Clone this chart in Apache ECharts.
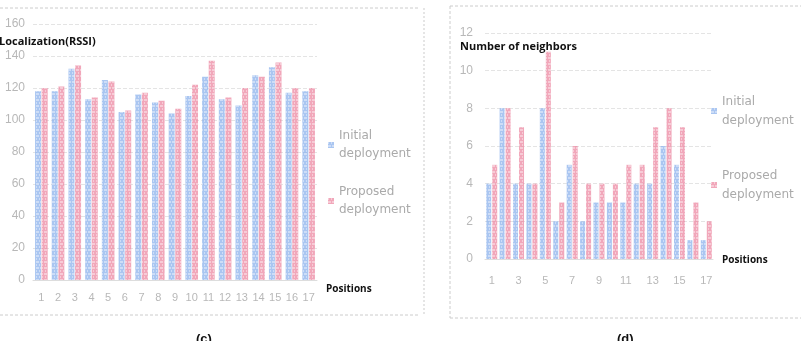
<!DOCTYPE html>
<html>
<head>
<meta charset="utf-8">
<script src="https://cdn.jsdelivr.net/npm/echarts@6/dist/echarts.min.js"></script>
<style>
  html, body { margin: 0; padding: 0; background: #fff; }
  #chart { width: 801px; height: 341px; }
</style>
</head>
<body>
<div id="chart"></div>
<script>
var chart = echarts.init(document.getElementById('chart'));

// positions 1..17
var positions = ['1','2','3','4','5','6','7','8','9','10','11','12','13','14','15','16','17'];
// (c) localization (RSSI)
var rssiInitial  = [118,118,132,113,125,105,116,111,104,115,127,113,109,128,133,117,118];
var rssiProposed = [120,121,134,114,124,106,117,112,107,122,137,114,120,127,136,120,120];
// (d) number of neighbors
var nbInitial  = [4,8,4,4,8,2,5,2,3,3,3,4,4,6,5,1,1];
var nbProposed = [5,8,7,4,11,3,6,4,4,4,5,5,7,8,7,3,2];

var blue = '#8db3ec';
var red = '#ec8aa3';
var labelGrey = '#b8b8b8';

// faded, speckled look of the scanned bars
var decal = {
    symbol: 'rect',
    symbolSize: 1,
    dashArrayX: [[3, 1], [1, 2]],
    dashArrayY: [2, 1],
    color: 'rgba(255,255,255,0.55)'
};

function legendText(name) {
    return name.replace(' ', '\n');
}

chart.setOption({
    animation: false,
    backgroundColor: '#fff',
    title: [
        { text: 'Localization(RSSI)', left: -6, top: 31,
          textStyle: { fontSize: 11, fontWeight: 'bold', color: '#111', fontFamily: 'Open Sans' } },
        { text: 'Number of neighbors', left: 455, top: 36,
          textStyle: { fontSize: 11, fontWeight: 'bold', color: '#111', fontFamily: 'Open Sans' } },
        { text: 'Positions', left: 321, top: 279,
          textStyle: { fontSize: 10, fontWeight: 'bold', color: '#111', fontFamily: 'Open Sans' } },
        { text: 'Positions', left: 717, top: 250,
          textStyle: { fontSize: 10, fontWeight: 'bold', color: '#111', fontFamily: 'Open Sans' } },
        { text: '(c)', left: 191, top: 328,
          textStyle: { fontSize: 13, fontWeight: 'bold', color: '#111' } },
        { text: '(d)', left: 612, top: 328,
          textStyle: { fontSize: 13, fontWeight: 'bold', color: '#111' } }
    ],
    legend: [
        { left: 323, top: 122, orient: 'vertical', icon: 'rect', itemWidth: 6, itemHeight: 6,
          itemGap: 20, data: ['Initial deployment', 'Proposed deployment'], formatter: legendText,
          textStyle: { color: '#aaa', fontSize: 12, lineHeight: 18, fontFamily: 'DejaVu Sans' } },
        { left: 706, top: 87, orient: 'vertical', icon: 'rect', itemWidth: 6, itemHeight: 6,
          itemGap: 36, data: ['Initial deployment', 'Proposed deployment'], formatter: legendText,
          textStyle: { color: '#aaa', fontSize: 12, lineHeight: 19, fontFamily: 'DejaVu Sans' } }
    ],
    grid: [
        { left: 33, right: 801 - 317, top: 24, height: 256 },
        { left: 485, right: 801 - 713, top: 33, height: 226 }
    ],
    xAxis: [
        { type: 'category', gridIndex: 0, data: positions,
          axisLine: { lineStyle: { color: '#ddd' } }, axisTick: { show: false },
          axisLabel: { color: labelGrey, fontSize: 11, margin: 12, interval: 0 } },
        { type: 'category', gridIndex: 1, data: positions,
          axisLine: { lineStyle: { color: '#ddd' } }, axisTick: { show: false },
          axisLabel: { color: labelGrey, fontSize: 11, margin: 16, interval: 1 } }
    ],
    yAxis: [
        { type: 'value', gridIndex: 0, min: 0, max: 160, interval: 20,
          axisLabel: { color: labelGrey, fontSize: 12, margin: 8 },
          splitLine: { lineStyle: { color: '#e4e4e4', type: 'dashed' } } },
        { type: 'value', gridIndex: 1, min: 0, max: 12, interval: 2,
          axisLabel: { color: labelGrey, fontSize: 12, margin: 12 },
          splitLine: { lineStyle: { color: '#e4e4e4', type: 'dashed' } } }
    ],
    series: [
        { name: 'Initial deployment', type: 'bar', xAxisIndex: 0, yAxisIndex: 0, data: rssiInitial,
          barWidth: 6, barGap: '10%', itemStyle: { color: blue, opacity: 0.75, decal: decal } },
        { name: 'Proposed deployment', type: 'bar', xAxisIndex: 0, yAxisIndex: 0, data: rssiProposed,
          barWidth: 6, barGap: '10%', itemStyle: { color: red, opacity: 0.75, decal: decal } },
        { name: 'Initial deployment', type: 'bar', xAxisIndex: 1, yAxisIndex: 1, data: nbInitial,
          barWidth: 5, barGap: '20%', itemStyle: { color: blue, opacity: 0.75, decal: decal } },
        { name: 'Proposed deployment', type: 'bar', xAxisIndex: 1, yAxisIndex: 1, data: nbProposed,
          barWidth: 5, barGap: '20%', itemStyle: { color: red, opacity: 0.75, decal: decal } }
    ],
    aria: { enabled: false },
    graphic: [
        // panel frames from the scanned figure
        { type: 'line', shape: { x1: 0, y1: 8, x2: 420, y2: 8 },
          style: { stroke: '#ccc', lineDash: [3, 2] } },
        { type: 'line', shape: { x1: 0, y1: 315, x2: 420, y2: 315 },
          style: { stroke: '#ccc', lineDash: [3, 2] } },
        { type: 'line', shape: { x1: 424, y1: 8, x2: 424, y2: 315 },
          style: { stroke: '#ccc', lineDash: [2, 2] } },
        { type: 'line', shape: { x1: 450, y1: 6, x2: 801, y2: 6 },
          style: { stroke: '#ccc', lineDash: [3, 2] } },
        { type: 'line', shape: { x1: 450, y1: 6, x2: 450, y2: 318 },
          style: { stroke: '#ccc', lineDash: [3, 2] } },
        { type: 'line', shape: { x1: 450, y1: 318, x2: 801, y2: 318 },
          style: { stroke: '#ccc', lineDash: [3, 2] } }
    ]
});

window.addEventListener('resize', function () {
    chart.resize();
});
</script>
</body>
</html>
